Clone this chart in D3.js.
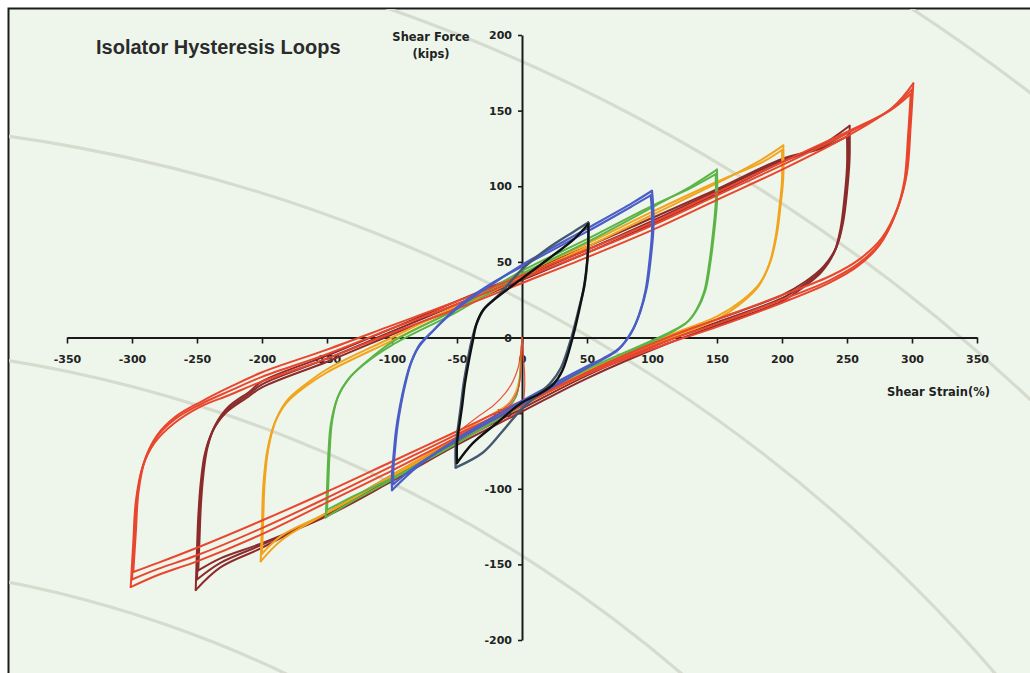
<!DOCTYPE html>
<html>
<head>
<meta charset="utf-8">
<script src="https://cdn.jsdelivr.net/npm/d3@7"></script>
<style>
  html, body { margin: 0; padding: 0; background: #ffffff; }
  svg { display: block; }
</style>
</head>
<body>
<svg id="chart" width="1030" height="673"></svg>
<script>
// ---- Tick labels ----
const strainTicks = [-350, -300, -250, -200, -150, -100, -50, 0, 50, 100, 150, 200, 250, 300, 350];
const forceTicks = [-200, -150, -100, -50, 0, 50, 100, 150, 200];

// ---- Hysteresis cycles: [shear strain %, shear force kips] ----
// Each cycle starts at its positive peak, unloads to the negative peak and reloads.
// 300% strain amplitude
const loop300a = [[301,168],[299,140],[296,108],[289,86],[277,66],[260,52],[238,41],[200,28],[150,12],[112,0],[50,-23],[0,-45],[-50,-66],[-100,-88],[-150,-109],[-200,-130],[-250,-148],[-280,-157],[-301,-165],[-299,-135],[-297,-108],[-292,-86],[-283,-70],[-268,-57],[-248,-46],[-225,-38],[-200,-29],[-150,-14],[-100,3],[-50,19],[0,36],[50,53],[100,71],[150,91],[200,111],[250,133],[285,152],[301,168]];
const loop300b = [[300,164],[298,137],[295,105],[288,83],[276,63],[259,49],[237,38],[200,25],[150,9],[112,-2],[50,-24],[0,-44],[-50,-64],[-100,-85],[-150,-106],[-200,-126],[-250,-144],[-280,-153],[-300,-160],[-298,-131],[-296,-105],[-291,-83],[-282,-67],[-267,-54],[-247,-44],[-224,-35],[-200,-26],[-150,-11],[-100,6],[-50,22],[0,39],[50,56],[100,74],[150,94],[200,114],[250,135],[284,151],[300,164]];
const loop300c = [[299,161],[297,134],[294,103],[287,81],[275,61],[258,47],[236,36],[200,23],[150,7],[112,-4],[50,-24],[0,-42],[-50,-62],[-100,-82],[-150,-102],[-200,-121],[-250,-139],[-280,-149],[-299,-155],[-297,-128],[-295,-102],[-290,-81],[-281,-65],[-266,-52],[-246,-42],[-223,-32],[-200,-23],[-150,-8],[-100,8],[-50,24],[0,41],[50,58],[100,76],[150,96],[200,116],[250,136],[283,150],[299,161]];

// 250% strain amplitude
const loop250a = [[252,140],[252,118],[250,96],[247,76],[242,60],[232,47],[218,37],[200,28],[150,12],[112,0],[50,-23],[0,-45],[-50,-67],[-100,-91],[-150,-116],[-200,-139],[-232,-152],[-251,-167],[-250,-140],[-249,-118],[-247,-95],[-244,-77],[-238,-62],[-228,-50],[-212,-40],[-200,-33],[-150,-16],[-100,2],[-50,20],[0,38],[50,56],[100,75],[150,95],[200,116],[230,127],[252,140]];
const loop250b = [[251,136],[251,115],[249,94],[246,74],[241,58],[231,45],[217,35],[200,26],[150,10],[112,-2],[50,-25],[0,-47],[-50,-69],[-100,-93],[-150,-117],[-200,-137],[-232,-149],[-250,-160],[-249,-136],[-248,-115],[-246,-93],[-243,-75],[-237,-60],[-227,-48],[-211,-38],[-200,-31],[-150,-14],[-100,4],[-50,22],[0,40],[50,58],[100,77],[150,97],[200,117],[230,126],[251,136]];
const loop250c = [[250,133],[250,113],[248,92],[245,72],[240,56],[230,43],[216,33],[200,24],[150,8],[112,-4],[50,-27],[0,-49],[-50,-71],[-100,-95],[-150,-118],[-200,-136],[-232,-146],[-249,-154],[-248,-132],[-247,-111],[-245,-90],[-242,-73],[-236,-58],[-226,-46],[-210,-36],[-200,-29],[-150,-12],[-100,6],[-50,24],[0,42],[50,60],[100,79],[150,98],[200,118],[230,125],[250,133]];

// 200% strain amplitude
const loop200a = [[201,127],[201,106],[199,88],[196,68],[191,50],[183,36],[170,25],[150,14],[112,1],[50,-22],[0,-43],[-50,-66],[-100,-91],[-150,-116],[-185,-134],[-201,-148],[-200,-122],[-199,-98],[-196,-75],[-190,-56],[-181,-43],[-166,-32],[-150,-23],[-100,-2],[-50,19],[0,40],[50,60],[100,81],[150,102],[185,118],[201,127]];
const loop200b = [[200,124],[200,104],[198,86],[195,66],[190,48],[182,34],[169,23],[150,12],[112,-1],[50,-24],[0,-45],[-50,-68],[-100,-92],[-150,-116],[-185,-131],[-200,-143],[-199,-119],[-198,-96],[-195,-73],[-189,-54],[-180,-41],[-165,-30],[-150,-21],[-100,0],[-50,21],[0,42],[50,62],[100,83],[150,103],[185,116],[200,124]];

// 150% strain amplitude
const loop150a = [[150,111],[150,90],[148,71],[145,50],[141,31],[135,19],[128,11],[115,4],[50,-21],[0,-43],[-50,-68],[-100,-94],[-130,-108],[-151,-119],[-150,-100],[-149,-78],[-147,-57],[-142,-40],[-134,-28],[-122,-18],[-100,-5],[-50,17],[0,42],[50,63],[100,86],[130,100],[150,111]];
const loop150b = [[149,108],[149,89],[147,70],[144,49],[140,30],[134,18],[127,10],[114,3],[50,-23],[0,-45],[-50,-70],[-100,-93],[-130,-105],[-150,-114],[-149,-97],[-148,-76],[-146,-55],[-141,-38],[-133,-27],[-121,-17],[-100,-3],[-50,19],[0,44],[50,65],[100,87],[130,99],[149,108]];

// 100% strain amplitude
const loop100a = [[100,97],[101,85],[101,71],[99,52],[96,33],[91,17],[85,5],[75,-7],[62,-14],[50,-19],[0,-42],[-50,-67],[-80,-85],[-100,-101],[-100,-90],[-99,-80],[-97,-62],[-94,-46],[-90,-30],[-86,-18],[-80,-7],[-70,3],[-50,19],[-25,34],[0,48],[50,72],[85,89],[100,97]];
const loop100b = [[99,94],[100,83],[100,69],[98,50],[95,31],[90,15],[84,3],[74,-8],[61,-15],[50,-20],[0,-44],[-50,-68],[-80,-84],[-99,-97],[-99,-87],[-98,-77],[-96,-60],[-93,-44],[-89,-28],[-85,-16],[-79,-5],[-69,4],[-50,20],[-25,35],[0,47],[50,70],[85,87],[99,94]];

// 50% strain amplitude
const loop50a = [[51,76],[51,62],[50,48],[48,34],[44,20],[38,0],[30,-20],[22,-30],[12,-38],[0,-47],[-15,-62],[-30,-76],[-51,-86],[-51,-72],[-49,-58],[-47,-45],[-45,-31],[-42,-16],[-39,-3],[-35,9],[-29,19],[-18,28],[0,45],[20,59],[38,69],[51,76]];
const loop50b = [[51,75],[51,62],[50,49],[48,35],[45,22],[39,0],[31,-22],[24,-31],[14,-37],[0,-43],[-20,-57],[-38,-70],[-50,-83],[-50,-70],[-48,-57],[-46,-45],[-44,-31],[-41,-16],[-38,-3],[-35,9],[-30,18],[-20,26],[0,39],[25,55],[40,65],[51,75]];

// Initial loading legs starting from rest
const start300a = [[0,0],[-1,-10],[-3,-20],[-7,-29],[-13,-37],[-22,-45],[-35,-53],[-50,-63]];
const start300b = [[0,0],[0,-12],[-1,-24],[-3,-34],[-8,-42],[-17,-49],[-30,-56],[-50,-66]];
const start300c = [[0,0],[1,-12],[2,-24],[2,-34],[1,-42],[-2,-48],[-8,-52],[-20,-57]];
const start250 = [[0,0],[-1,-16],[-2,-30],[-5,-40],[-12,-47],[-25,-54],[-50,-65]];
const start150 = [[0,0],[-1,-14],[-2,-28],[-4,-38],[-10,-46],[-20,-52],[-35,-59],[-50,-67]];
const start200 = [[0,0],[-1,-13],[-2,-26],[-5,-36],[-11,-44],[-22,-50],[-50,-64]];

// ---- Series table ----
const series = [
  { name: "250%", cycles: [loop250a, loop250b, loop250c], starts: [start250], color: "#8c2b2b", width: 2 },
  { name: "200%", cycles: [loop200a, loop200b], starts: [start200], color: "#f2a41e", width: 2 },
  { name: "150%", cycles: [loop150a, loop150b], starts: [start150], color: "#5db446", width: 2 },
  { name: "300%", cycles: [loop300a, loop300b, loop300c], starts: [start300a, start300b, start300c], color: "#e9462e", width: 2 },
  { name: "100%", cycles: [loop100a, loop100b], starts: [], color: "#4a5ec6", width: 2.2 },
  { name: "50% (1)", cycles: [loop50a], starts: [], color: "#44596f", width: 2.4 },
  { name: "50% (2)", cycles: [loop50b], starts: [], color: "#111111", width: 2.4 }
];

// ---- Layout ----
const svg = d3.select("#chart");
const x = d3.scaleLinear().domain([-350, 350]).range([67, 977]);
const y = d3.scaleLinear().domain([-200, 200]).range([640, 35]);

const defs = svg.append("defs");
defs.append("clipPath").attr("id", "panelClip")
  .append("rect").attr("x", 9).attr("y", 9).attr("width", 1030).attr("height", 680);
defs.append("filter").attr("id", "soft")
  .append("feGaussianBlur").attr("stdDeviation", 0.7);

// chart panel with frame on the left and top edges
svg.append("rect")
  .attr("x", 8.5).attr("y", 8.5).attr("width", 1040).attr("height", 700)
  .attr("fill", "#eef6ec").attr("stroke", "#1c1c1c").attr("stroke-width", 2);

// decorative concentric rings in the background
const ringCenter = [-212, 1716];
svg.append("g").attr("clip-path", "url(#panelClip)")
  .selectAll("circle").data([1155, 1373, 1595, 1810, 2044]).join("circle")
  .attr("cx", ringCenter[0]).attr("cy", ringCenter[1]).attr("r", d => d)
  .attr("fill", "none").attr("stroke", "#d6dbce").attr("stroke-width", 3.2)
  .attr("filter", "url(#soft)");

// ---- Axes ----
const fontFamily = "'DejaVu Sans', Verdana, sans-serif";

const xAxisG = svg.append("g")
  .attr("transform", `translate(0,${y(0)})`)
  .call(d3.axisBottom(x).tickValues(strainTicks).tickSize(6).tickSizeOuter(0).tickPadding(12).tickFormat(d => d));

const yAxisG = svg.append("g")
  .attr("transform", `translate(${x(0)},0)`)
  .call(d3.axisLeft(y).tickValues(forceTicks).tickSize(4).tickSizeOuter(0).tickPadding(6).tickFormat(d => d));

[xAxisG, yAxisG].forEach(g => {
  g.select(".domain").attr("stroke", "#1a1a1a").attr("stroke-width", 2);
  g.selectAll(".tick line").attr("stroke", "#1a1a1a").attr("stroke-width", 1.6);
  g.selectAll(".tick text")
    .attr("fill", "#222").attr("font-family", fontFamily)
    .attr("font-weight", "bold").attr("font-size", 11);
});

// ---- Loops ----
const line = d3.line()
  .x(d => x(d[0])).y(d => y(d[1]))
  .curve(d3.curveCatmullRom.alpha(0.5));

// split a cycle at its negative peak so both load reversals stay sharp
function branches(cycle) {
  const iMin = d3.minIndex(cycle, d => d[0]);
  return [cycle.slice(0, iMin + 1), cycle.slice(iMin)];
}

const loopsG = svg.append("g").attr("fill", "none")
  .attr("stroke-linejoin", "round").attr("stroke-linecap", "round");

series.forEach(s => {
  const g = loopsG.append("g").attr("class", "series");
  g.selectAll("path.start").data(s.starts).join("path")
    .attr("class", "start").attr("d", line)
    .attr("stroke", s.color).attr("stroke-width", 1.2).attr("opacity", 0.9);
  g.selectAll("path.cycle").data(s.cycles.flatMap(branches)).join("path")
    .attr("class", "cycle").attr("d", line)
    .attr("stroke", s.color).attr("stroke-width", s.width);
});

// ---- Titles ----
svg.append("text")
  .attr("x", 96).attr("y", 54)
  .attr("font-family", "'Liberation Sans', Arial, sans-serif")
  .attr("font-weight", "bold").attr("font-size", 20).attr("fill", "#2b2b2b")
  .text("Isolator Hysteresis Loops");

const yTitle = svg.append("text")
  .attr("text-anchor", "middle").attr("font-family", fontFamily)
  .attr("font-weight", "bold").attr("font-size", 11.5).attr("fill", "#222");
yTitle.append("tspan").attr("x", 431).attr("y", 41).text("Shear Force");
yTitle.append("tspan").attr("x", 431).attr("y", 58).text("(kips)");

svg.append("text")
  .attr("x", 990).attr("y", 396).attr("text-anchor", "end")
  .attr("font-family", fontFamily).attr("font-weight", "bold")
  .attr("font-size", 11.5).attr("fill", "#222")
  .text("Shear Strain(%)");
</script>
</body>
</html>
